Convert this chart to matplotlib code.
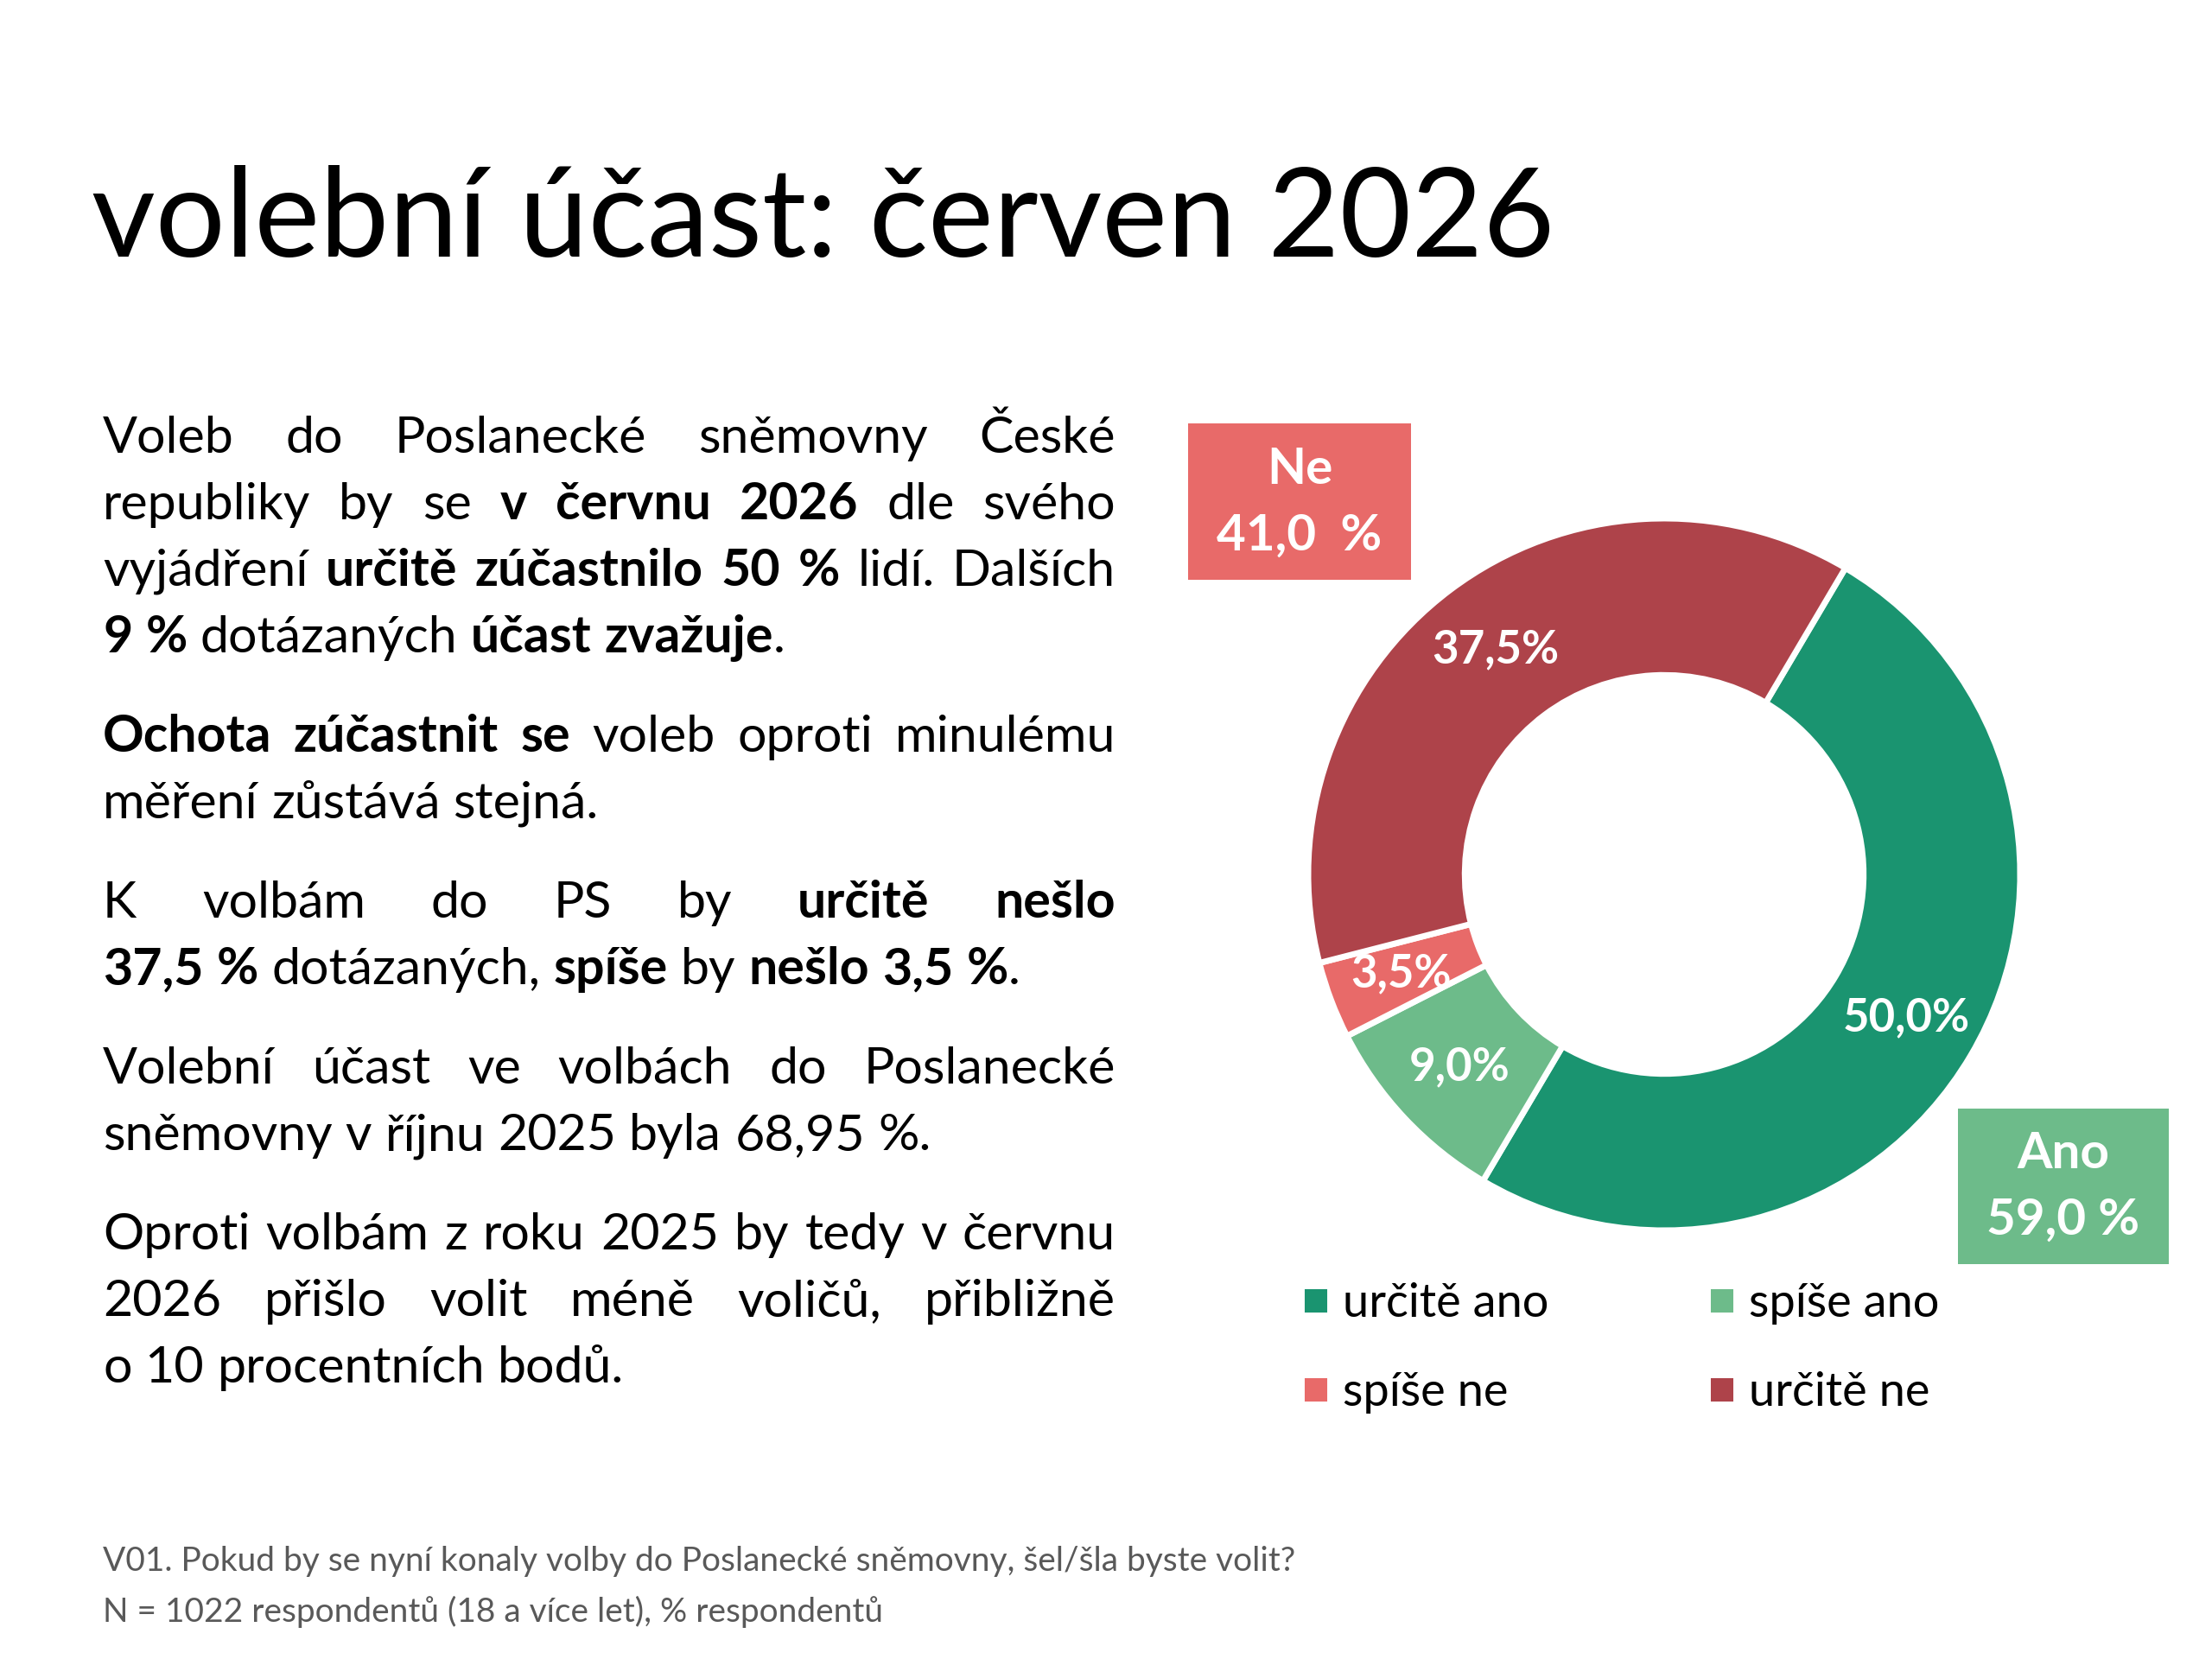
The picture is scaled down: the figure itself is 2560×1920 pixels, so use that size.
import matplotlib
matplotlib.use("Agg")
import matplotlib.pyplot as plt
from matplotlib.patches import Rectangle

# data
kategorie = ["určitě ano", "spíše ano", "spíše ne", "určitě ne"]
hodnoty = [50.0, 9.0, 3.5, 37.5]
barvy = ["#1a9470", "#6dbb8a", "#e86a69", "#ae434a"]

nadpis = "volební účast: červen 2026"

odstavce = [
    ["Voleb do Poslanecké sněmovny České",
     "republiky by se **v červnu 2026** dle svého",
     "vyjádření **určitě zúčastnilo 50 %** lidí. Dalších",
     "**9 %** dotázaných **účast zvažuje**."],
    ["**Ochota zúčastnit se** voleb oproti minulému",
     "měření zůstává stejná."],
    ["K volbám do PS by **určitě nešlo**",
     "**37,5 %** dotázaných, **spíše** by **nešlo 3,5 %**."],
    ["Volební účast ve volbách do Poslanecké",
     "sněmovny v říjnu 2025 byla 68,95 %."],
    ["Oproti volbám z roku 2025 by tedy v červnu",
     "2026 přišlo volit méně voličů, přibližně",
     "o 10 procentních bodů."],
]

poznamka = ["V01. Pokud by se nyní konaly volby do Poslanecké sněmovny, šel/šla byste volit?",
            "N = 1022 respondentů (18 a více let), % respondentů"]

W, H = 2560, 1920
FONT = ["Lato", "DejaVu Sans"]
plt.rcParams["font.family"] = FONT

fig = plt.figure(figsize=(12.8, 9.6), dpi=200)
fig.patch.set_facecolor("white")


def fx(px):
    return px / W


def fy(py):
    return 1 - py / H


# nadpis
fig.text(fx(106), fy(297), nadpis, fontsize=51.5, color="black", va="baseline", ha="left")


# rozdeleni radku na slova s tucnymi useky
def rozdel(radek):
    slova, slovo, kus, tucne = [], [], "", False
    i = 0
    while i < len(radek):
        if radek.startswith("**", i):
            if kus:
                slovo.append((kus, tucne))
                kus = ""
            tucne = not tucne
            i += 2
            continue
        c = radek[i]
        if c == " ":
            if kus:
                slovo.append((kus, tucne))
                kus = ""
            if slovo:
                slova.append(slovo)
                slovo = []
        else:
            kus += c
        i += 1
    if kus:
        slovo.append((kus, tucne))
    if slovo:
        slova.append(slovo)
    return slova


r = fig.canvas.get_renderer()
VEL = 21.3
X0, X1 = 119, 1291


def sirka(t):
    return t.get_window_extent(r).width


t1 = fig.text(0, 0, "a a", fontsize=VEL)
t2 = fig.text(0, 0, "aa", fontsize=VEL)
mezera = sirka(t1) - sirka(t2)
t1.remove()
t2.remove()

y = 524
for odst in odstavce:
    for k, radek in enumerate(odst):
        posledni = k == len(odst) - 1
        slova = rozdel(radek)
        objekty = []
        sirky = []
        for slovo in slova:
            texty = []
            for kus, tucne in slovo:
                t = fig.text(0, fy(y), kus, fontsize=VEL, va="baseline", ha="left",
                             fontweight="bold" if tucne else "normal", color="black")
                texty.append(t)
            objekty.append(texty)
            sirky.append(sum(sirka(t) for t in texty))
        if posledni or len(slova) < 2:
            mez = mezera
        else:
            mez = (X1 - X0 - sum(sirky)) / (len(slova) - 1)
        x = X0
        for texty, s in zip(objekty, sirky):
            xx = x
            for t in texty:
                t.set_x(fx(xx))
                xx += sirka(t)
            x += s + mez
        y += 77
    y += 38

# poznamka
fig.text(fx(119), fy(1818), poznamka[0], fontsize=14, color="#595959", va="baseline")
fig.text(fx(119), fy(1877), poznamka[1], fontsize=14, color="#595959", va="baseline")

# donut
cx, cy, R = 1926, 1012, 412
ax = fig.add_axes([fx(cx - R), fy(cy + R), 2 * R / W, 2 * R / H])
wedges, _, autotexts = ax.pie(
    hodnoty, colors=barvy, startangle=59.4, counterclock=False, radius=1,
    wedgeprops=dict(width=0.44, edgecolor="white", linewidth=2.5),
    autopct=lambda p: f"{p:.1f}%".replace(".", ","), pctdistance=0.79,
    textprops=dict(color="white", fontweight="bold", fontsize=19))
ax.set_xlim(-1, 1)
ax.set_ylim(-1, 1)
ax.set_aspect("equal")
ax.axis("off")

# legenda (radky: určitě ano / spíše ano, spíše ne / určitě ne)
poradi = [0, 2, 1, 3]
ax.legend([wedges[i] for i in poradi], [kategorie[i] for i in poradi],
          ncol=2, frameon=False, fontsize=19.5, loc="upper left",
          bbox_to_anchor=(fx(1506), fy(1484)), bbox_transform=fig.transFigure,
          handlelength=0.6, handleheight=0.6, handletextpad=0.28,
          columnspacing=3.4, labelspacing=1.0, borderaxespad=0, borderpad=0)

# souhrnne boxy
ne = hodnoty[2] + hodnoty[3]
ano = hodnoty[0] + hodnoty[1]
fig.patches.append(Rectangle((fx(1375), fy(671)), (1633 - 1375) / W, (671 - 490) / H,
                             transform=fig.transFigure, facecolor=barvy[2], edgecolor="none"))
fig.text(fx(1504), fy(544), "Ne", fontsize=21, fontweight="bold", color="white",
         ha="center", va="center")
fig.text(fx(1504), fy(620), f"{ne:.1f}".replace(".", ",") + "  %", fontsize=21,
         fontweight="bold", color="white", ha="center", va="center")

fig.patches.append(Rectangle((fx(2266), fy(1463)), (2510 - 2266) / W, (1463 - 1283) / H,
                             transform=fig.transFigure, facecolor=barvy[1], edgecolor="none"))
fig.text(fx(2388), fy(1336), "Ano", fontsize=21, fontweight="bold", color="white",
         ha="center", va="center")
fig.text(fx(2388), fy(1412), f"{ano:.1f}".replace(".", ",") + " %", fontsize=21,
         fontweight="bold", color="white", ha="center", va="center")

fig.savefig("out.png", dpi=200, facecolor="white")
